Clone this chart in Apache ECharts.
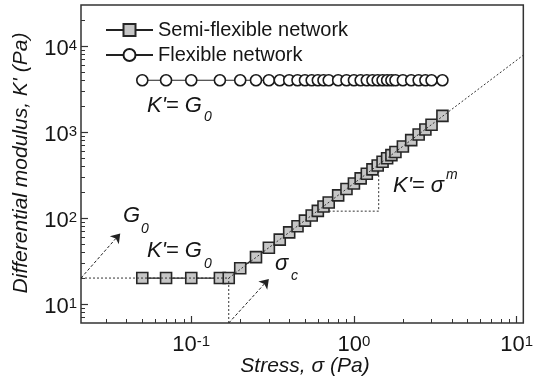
<!DOCTYPE html>
<html><head><meta charset="utf-8">
<script src="https://cdn.jsdelivr.net/npm/echarts@6/dist/echarts.min.js"></script>
<style>html,body{margin:0;padding:0;background:#fff}#c{width:536px;height:382px}</style>
</head><body><div id="c"></div>
<script>
// ---- data ----
const flexStress  = [0.05, 0.07, 0.1, 0.15, 0.2, 0.25, 0.3, 0.35, 0.4, 0.45, 0.5, 0.55, 0.6, 0.65, 0.7, 0.8, 0.9, 1.0, 1.1, 1.2, 1.3, 1.4, 1.5, 1.6, 1.7, 1.8, 2.0, 2.25, 2.5, 2.75, 3.0, 3.5];
const flexModulus = [4000, 4000, 4000, 4000, 4000, 4000, 4000, 4000, 4000, 4000, 4000, 4000, 4000, 4000, 4000, 4000, 4000, 4000, 4000, 4000, 4000, 4000, 4000, 4000, 4000, 4000, 4000, 4000, 4000, 4000, 4000, 4000];
const semiStress  = [0.05, 0.07, 0.1, 0.15, 0.17, 0.2, 0.25, 0.3, 0.35, 0.4, 0.45, 0.5, 0.55, 0.6, 0.65, 0.7, 0.8, 0.9, 1.0, 1.1, 1.2, 1.3, 1.4, 1.5, 1.6, 1.7, 1.8, 2.0, 2.25, 2.5, 2.75, 3.0, 3.5];
const semiModulus = [20, 20, 20, 20, 20, 26, 35, 45, 56, 68, 80, 93, 107, 121, 136, 151, 183, 217, 252, 289, 327, 367, 408, 450, 494, 538, 584, 679, 804, 934, 1071, 1213, 1540];

const xRange = [0.021, 11];
const yRange = [6, 30000];
const xMajorTicks = [0.1, 1, 10];
const xMinorTicks = [0.03,0.04,0.05,0.06,0.07,0.08,0.09,0.2,0.3,0.4,0.5,0.6,0.7,0.8,0.9,2,3,4,5,6,7,8,9];
const yMajorTicks = [10, 100, 1000, 10000];
const yMinorTicks = [7,8,9,20,30,40,50,60,70,80,90,200,300,400,500,600,700,800,900,2000,3000,4000,5000,6000,7000,8000,9000,20000];

// guide lines (data coordinates)
const fitLine      = [[0.17, 20], [11, 7830]];
const plateauLine  = [[0.021, 20], [0.17, 20]];
const criticalLine = [[0.17, 6], [0.17, 20]];
const slopeGuide   = [[0.7, 120], [1.42, 120], [1.42, 420]];
const arrowG0      = [[0.021, 20], [0.0366, 66]];
const arrowSigmaC  = [[0.17, 6], [0.30, 19.5]];

// ---- chart ----
const L = Math.log10;
const FONT = "'Liberation Sans', Arial, sans-serif";
const INK = '#151515';
const pts = arr => arr.map(p => [L(p[0]), L(p[1])]);
const xy = (xs, ys) => xs.map((x, i) => [L(x), L(ys[i])]);

const supLabel = {
  fontFamily: FONT, color: INK,
  formatter: v => '{b|10}{s|' + Math.round(v) + '}',
  rich: {
    b: {fontSize: 22, lineHeight: 22, verticalAlign: 'bottom', fontFamily: FONT, color: INK},
    s: {fontSize: 15, lineHeight: 15, verticalAlign: 'top', fontFamily: FONT, color: INK}
  }
};

const guideStyle = {color: '#333', width: 1, type: [2, 2]};
const guide = (data, z) => ({type: 'line', data: pts(data), symbol: 'none', silent: true, z: z,
  lineStyle: guideStyle, animation: false});

const option = {
  animation: false,
  backgroundColor: '#fff',
  grid: {left: 81, right: 8, top: 5, bottom: 59, show: true, borderColor: '#333', borderWidth: 1.5, backgroundColor: 'transparent'},
  xAxis: [
    {type: 'value', min: L(xRange[0]), max: L(xRange[1]), position: 'bottom',
     axisLine: {show: false, onZero: false}, splitLine: {show: false},
     axisTick: {inside: true, length: 7, lineStyle: {color: '#333', width: 1.2}, customValues: xMajorTicks.map(L)},
     axisLabel: Object.assign({margin: 5, padding: [6, 0, 0, 0], customValues: xMajorTicks.map(L)}, supLabel)},
    {type: 'value', min: L(xRange[0]), max: L(xRange[1]), position: 'bottom',
     axisLine: {show: false, onZero: false}, splitLine: {show: false}, axisLabel: {show: false},
     axisTick: {inside: true, length: 4, lineStyle: {color: '#333', width: 1}, customValues: xMinorTicks.map(L)}}
  ],
  yAxis: [
    {type: 'value', min: L(yRange[0]), max: L(yRange[1]), position: 'left',
     axisLine: {show: false, onZero: false}, splitLine: {show: false},
     axisTick: {inside: true, length: 7, lineStyle: {color: '#333', width: 1.2}, customValues: yMajorTicks.map(L)},
     axisLabel: Object.assign({margin: 4, padding: [6, 0, 0, 0], customValues: yMajorTicks.map(L)}, supLabel)},
    {type: 'value', min: L(yRange[0]), max: L(yRange[1]), position: 'left',
     axisLine: {show: false, onZero: false}, splitLine: {show: false}, axisLabel: {show: false},
     axisTick: {inside: true, length: 4, lineStyle: {color: '#333', width: 1}, customValues: yMinorTicks.map(L)}}
  ],
  legend: {
    data: ['Semi-flexible network', 'Flexible network'],
    orient: 'vertical', left: 100, top: 15, itemWidth: 47, itemHeight: 15, itemGap: 5,
    textStyle: {fontSize: 20, lineHeight: 20, fontFamily: FONT, color: INK}
  },
  series: [
    guide(slopeGuide, 1),
    {name: 'Semi-flexible network', type: 'line', data: xy(semiStress, semiModulus),
     symbol: 'rect', symbolSize: 11, z: 3,
     lineStyle: {color: '#222', width: 1.2},
     itemStyle: {color: '#c6c6c6', borderColor: '#262626', borderWidth: 1.6}},
    {name: 'Flexible network', type: 'line', data: xy(flexStress, flexModulus),
     symbol: 'circle', symbolSize: 11, z: 3,
     lineStyle: {color: '#222', width: 1.2},
     itemStyle: {color: '#fff', borderColor: '#1a1a1a', borderWidth: 1.6}},
    guide(fitLine, 4),
    guide(plateauLine, 4),
    Object.assign(guide(criticalLine, 4), {
      markLine: {silent: true, animation: false, symbol: ['none', 'arrow'], symbolSize: 9,
        label: {show: false}, lineStyle: {color: '#222', width: 1, type: [3, 2]},
        data: [
          [{coord: pts(arrowG0)[0]}, {coord: pts(arrowG0)[1]}],
          [{coord: pts(arrowSigmaC)[0]}, {coord: pts(arrowSigmaC)[1]}]
        ]}
    })
  ],
  graphic: [
    {type: 'text', x: 21, y: 163, rotation: Math.PI / 2,
     style: {text: "Differential modulus, K' (Pa)", font: 'italic 21px ' + FONT, fill: INK, align: 'center', verticalAlign: 'middle'}},
    {type: 'text', x: 305, y: 366,
     style: {text: 'Stress, σ (Pa)', font: 'italic 21px ' + FONT, fill: INK, align: 'center', verticalAlign: 'middle'}},
    // K'= G0 (flexible)
    {type: 'text', x: 147, y: 106, style: {text: "K'= G", font: 'italic 22px ' + FONT, fill: INK, align: 'left', verticalAlign: 'middle'}},
    {type: 'text', x: 204, y: 117, style: {text: '0', font: 'italic 14px ' + FONT, fill: INK, align: 'left', verticalAlign: 'middle'}},
    // K'= sigma^m
    {type: 'text', x: 393, y: 186, style: {text: "K'= σ", font: 'italic 22px ' + FONT, fill: INK, align: 'left', verticalAlign: 'middle'}},
    {type: 'text', x: 446, y: 175, style: {text: 'm', font: 'italic 14px ' + FONT, fill: INK, align: 'left', verticalAlign: 'middle'}},
    // G0
    {type: 'text', x: 123, y: 216, style: {text: 'G', font: 'italic 22px ' + FONT, fill: INK, align: 'left', verticalAlign: 'middle'}},
    {type: 'text', x: 141, y: 229, style: {text: '0', font: 'italic 14px ' + FONT, fill: INK, align: 'left', verticalAlign: 'middle'}},
    // K'= G0 (semi-flexible)
    {type: 'text', x: 147, y: 251, style: {text: "K'= G", font: 'italic 22px ' + FONT, fill: INK, align: 'left', verticalAlign: 'middle'}},
    {type: 'text', x: 204, y: 264, style: {text: '0', font: 'italic 14px ' + FONT, fill: INK, align: 'left', verticalAlign: 'middle'}},
    // sigma_c
    {type: 'text', x: 275, y: 264, style: {text: 'σ', font: 'italic 22px ' + FONT, fill: INK, align: 'left', verticalAlign: 'middle'}},
    {type: 'text', x: 291, y: 276, style: {text: 'c', font: 'italic 14px ' + FONT, fill: INK, align: 'left', verticalAlign: 'middle'}}
  ]
};

const chart = echarts.init(document.getElementById('c'), null, {renderer: 'canvas'});
chart.setOption(option);
</script>
</body></html>
